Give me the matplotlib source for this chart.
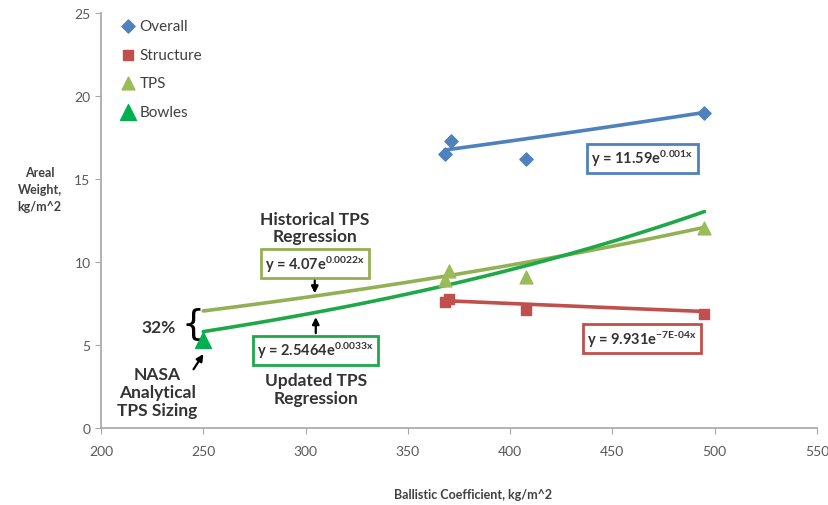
import numpy as np
import matplotlib
matplotlib.use("Agg")
import matplotlib.pyplot as plt

plt.rcParams['font.family'] = ['Lato', 'DejaVu Sans']
plt.rcParams['mathtext.fontset'] = 'custom'
plt.rcParams['mathtext.rm'] = 'Lato:bold'
plt.rcParams['mathtext.it'] = 'Lato:bold'
plt.rcParams['mathtext.bf'] = 'Lato:bold'
plt.rcParams['mathtext.default'] = 'rm'

# Ballistic coefficient (kg/m^2) vs areal weight (kg/m^2)
overall_x = [368, 371, 408, 495]
overall_y = [16.5, 17.3, 16.2, 19.0]
structure_x = [368, 370, 408, 495]
structure_y = [7.6, 7.8, 7.1, 6.9]
tps_x = [368, 370, 408, 495]
tps_y = [8.9, 9.45, 9.1, 12.05]
bowles_x = [250]
bowles_y = [5.3]

# Exponential regressions y = a * exp(b x) and their fitted ranges
overall_fit = (11.59, 0.001, 368, 495)
structure_fit = (9.931, -7e-4, 368, 495)
tps_hist_fit = (4.07, 0.0022, 250, 495)
tps_updated_fit = (2.5464, 0.0033, 250, 495)

x_ticks = [200, 250, 300, 350, 400, 450, 500, 550]
y_ticks = [0, 5, 10, 15, 20, 25]

c_overall = '#4F81BD'
c_struct = '#C0504D'
c_tps = '#9BBB59'
c_bowles = '#00B050'
c_tps_line = '#93B054'
c_upd_line = '#1EA84A'

fig = plt.figure(figsize=(8.29, 5.06), dpi=100)
ax = fig.add_axes([0.1218, 0.152, 0.8637, 0.8203])


def fit_curve(fit, n=60):
    a, b, x0, x1 = fit
    xs = np.linspace(x0, x1, n)
    return xs, a * np.exp(b * xs)


for fit, col in [(overall_fit, c_overall), (structure_fit, c_struct),
                 (tps_hist_fit, c_tps_line), (tps_updated_fit, c_upd_line)]:
    xs, ys = fit_curve(fit)
    ax.plot(xs, ys, color=col, lw=2.6, solid_capstyle='round', zorder=2)

ax.scatter(overall_x, overall_y, marker='D', s=45, color=c_overall, label='Overall', zorder=3)
ax.scatter(structure_x, structure_y, marker='s', s=60, color=c_struct, label='Structure', zorder=3)
ax.scatter(tps_x, tps_y, marker='^', s=85, color=c_tps, label='TPS', zorder=3)
ax.scatter(bowles_x, bowles_y, marker='^', s=130, color=c_bowles, label='Bowles', zorder=4)

ax.set_xlim(200, 550)
ax.set_ylim(0, 25)
ax.set_xticks(x_ticks)
ax.set_yticks(y_ticks)
for s in ['top', 'right']:
    ax.spines[s].set_visible(False)
for s in ['left', 'bottom']:
    ax.spines[s].set_color('#A6A6A6')
    ax.spines[s].set_linewidth(1.2)
ax.tick_params(colors='#A6A6A6', labelcolor='#595959', labelsize=10, length=4, direction='out')
ax.tick_params(axis='x', pad=8)

fig.text(0.571, 0.022, 'Ballistic Coefficient, kg/m^2', ha='center', va='center', fontsize=9,
         fontweight='bold', color='#404040')
fig.text(0.048, 0.625, 'Areal\nWeight,\nkg/m^2', ha='center', va='center', fontsize=9,
         fontweight='bold', color='#404040', linespacing=1.5)

leg = ax.legend(loc='upper left', bbox_to_anchor=(0.014, 1.0), frameon=False, fontsize=11,
                labelspacing=0.95, handletextpad=0.05, handlelength=1.4, borderaxespad=0)
for t in leg.get_texts():
    t.set_color('#404040')

# Equation labels
eq_kw = dict(fontsize=10.5, fontweight='bold', color='#333333', ha='center', va='center', zorder=5)
ax.text(464.5, 16.25, r'y = 11.59e$^{0.001x}$',
        bbox=dict(boxstyle='square,pad=0.3', fc='white', ec=c_overall, lw=2), **eq_kw)
ax.text(464.5, 5.4, r'y = 9.931e$^{-7E\text{-}04x}$',
        bbox=dict(boxstyle='square,pad=0.3', fc='white', ec=c_struct, lw=2), **eq_kw)
ax.text(304.5, 9.9, r'y = 4.07e$^{0.0022x}$',
        bbox=dict(boxstyle='square,pad=0.3', fc='white', ec=c_tps_line, lw=2), **eq_kw)
ax.text(305, 4.7, r'y = 2.5464e$^{0.0033x}$',
        bbox=dict(boxstyle='square,pad=0.3', fc='white', ec=c_upd_line, lw=2), **eq_kw)

note_kw = dict(fontsize=12.5, fontweight='bold', color='#333333', ha='center', va='center',
               linespacing=1.1)
ax.text(304.5, 12.1, 'Historical TPS\nRegression', **note_kw)
ax.text(305, 2.35, 'Updated TPS\nRegression', **note_kw)
ax.text(227.5, 2.2, 'NASA\nAnalytical\nTPS Sizing', **dict(note_kw, linespacing=1.15))
ax.text(228, 6.1, '32%', **note_kw)

arrow = dict(arrowstyle='-|>', color='black', lw=1.6, mutation_scale=10)
ax.annotate('', xy=(304.5, 7.95), xytext=(304.5, 9.05), arrowprops=arrow, zorder=5)
ax.annotate('', xy=(305, 6.85), xytext=(305, 5.55), arrowprops=arrow, zorder=5)
ax.annotate('', xy=(250.8, 4.6), xytext=(244.5, 3.4), arrowprops=arrow, zorder=5)

# Brace showing the gap between the two TPS regressions at the analytical point
ax.text(245, 6.25, '{', fontsize=26, fontweight='normal', color='black',
        ha='center', va='center', family='DejaVu Sans')

fig.savefig('out.png', dpi=100, facecolor='white')
